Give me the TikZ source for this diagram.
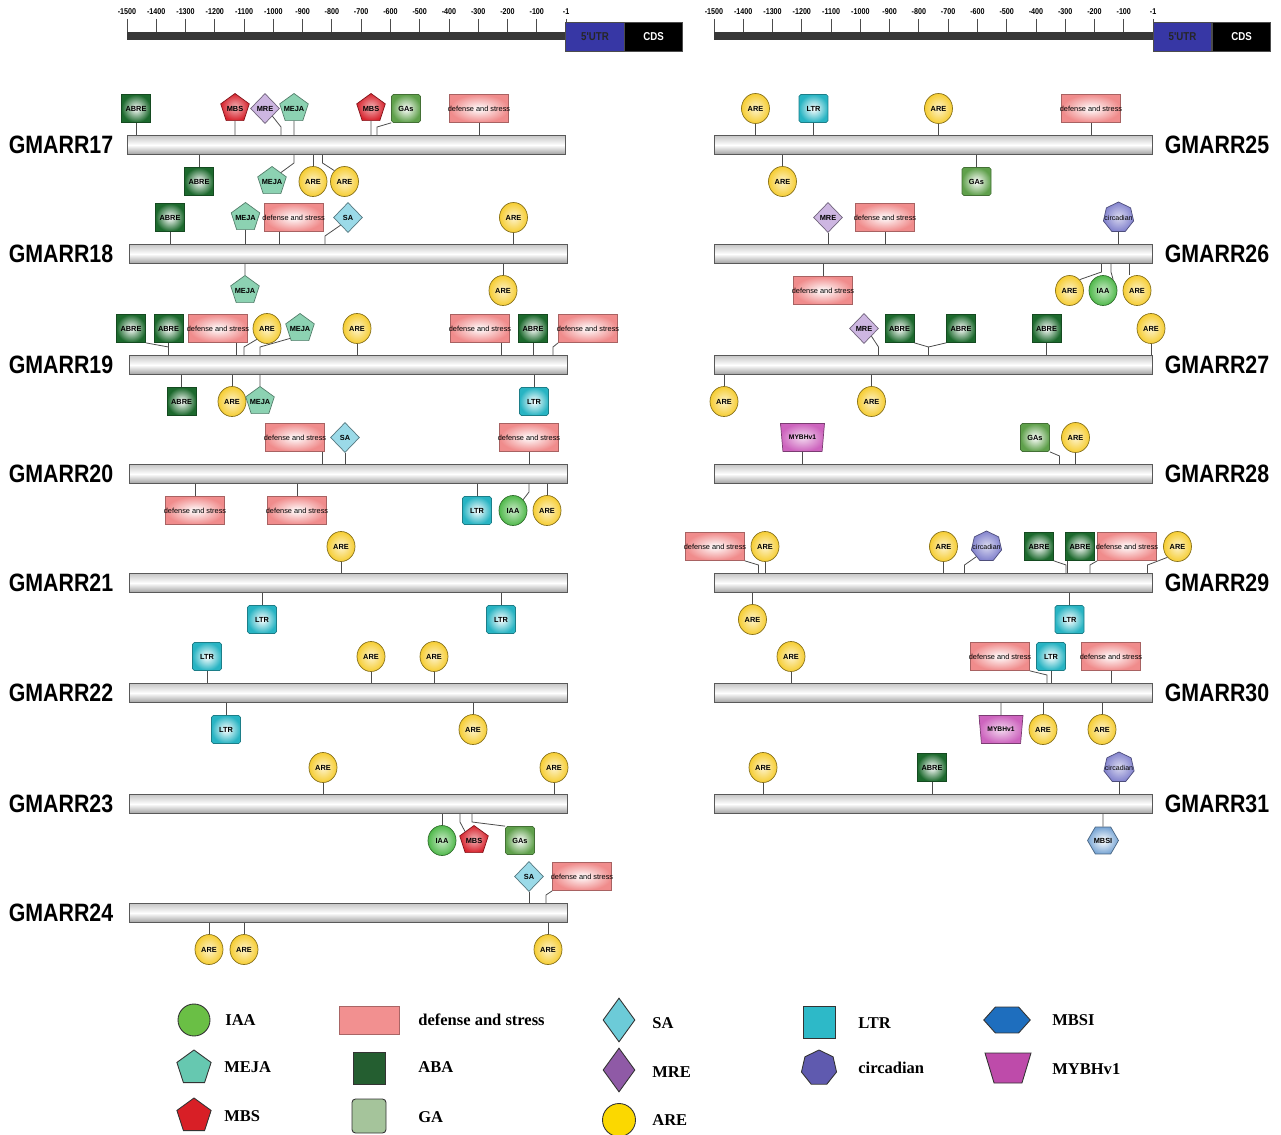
\documentclass[tikz,border=0pt]{standalone}
\usepackage{fontspec}
\setmainfont{Liberation Serif}
\newfontfamily\genefont[FakeStretch=0.85]{Liberation Sans}
\newfontfamily\elemfont{Liberation Sans}
\usepackage{tikz}
\usetikzlibrary{shapes,arrows,positioning}

% element colours
\definecolor{abreG}{RGB}{28,105,45}
\definecolor{gasG}{RGB}{95,160,75}
\definecolor{defP}{RGB}{240,140,140}
\definecolor{areY}{RGB}{246,205,50}
\definecolor{ltrC}{RGB}{40,180,195}
\definecolor{iaaG}{RGB}{80,185,75}
\definecolor{mejaT}{RGB}{140,210,178}
\definecolor{mbsR}{RGB}{215,35,45}
\definecolor{mreP}{RGB}{205,182,225}
\definecolor{saC}{RGB}{155,218,232}
\definecolor{circB}{RGB}{130,130,205}
\definecolor{mbsiB}{RGB}{120,165,212}
\definecolor{mybM}{RGB}{205,100,190}
\definecolor{utrB}{RGB}{55,55,165}
% legend colours
\definecolor{legIAA}{RGB}{106,191,69}
\definecolor{legDEF}{RGB}{242,144,144}
\definecolor{legSA}{RGB}{108,203,216}
\definecolor{legLTR}{RGB}{45,185,200}
\definecolor{legMBSI}{RGB}{30,110,190}
\definecolor{legMEJA}{RGB}{102,200,176}
\definecolor{legABA}{RGB}{36,94,48}
\definecolor{legMRE}{RGB}{143,90,166}
\definecolor{legCIRC}{RGB}{95,90,175}
\definecolor{legMYB}{RGB}{190,75,170}
\definecolor{legMBS}{RGB}{216,31,38}
\definecolor{legGA}{RGB}{165,196,155}
\definecolor{legARE}{RGB}{251,216,0}

\begin{document}
\begin{tikzpicture}[x=0.02cm, y=-0.02cm]
    % Define styles
    \tikzstyle{conn} = [draw=black!70, line width=0.45pt]
    \tikzstyle{genebar} = [rectangle, draw=black!65, line width=0.6pt, minimum width=8.78cm, minimum height=0.38cm, inner sep=0pt, top color=gray!45, bottom color=gray!75, middle color=white]
    \tikzstyle{genename} = [font=\genefont\fontsize{14.3}{16}\selectfont\bfseries]
    \tikzstyle{rulerbar} = [rectangle, fill=black!78, minimum width=8.78cm, minimum height=0.16cm, inner sep=0pt]
    \tikzstyle{tick} = [draw=black!70, line width=0.5pt]
    \tikzstyle{scalelab} = [inner sep=0pt, font=\genefont\fontsize{4.8}{5}\selectfont\bfseries]
    \tikzstyle{utrbox} = [rectangle, minimum width=1.17cm, minimum height=0.58cm, inner sep=0pt, fill=utrB, draw=black!70, text=black!85, font=\genefont\fontsize{6.5}{7}\selectfont\bfseries]
    \tikzstyle{cdsbox} = [utrbox, fill=black, text=white]
    \tikzstyle{elem} = [inner sep=0pt, line width=0.4pt, text=black, font=\elemfont\fontsize{4.2}{5}\selectfont\bfseries]
    \tikzstyle{abre} = [elem, rectangle, minimum width=0.58cm, minimum height=0.56cm, draw=abreG!70!black, inner color=white, outer color=abreG]
    \tikzstyle{gas} = [elem, rectangle, rounded corners=1pt, minimum width=0.58cm, minimum height=0.56cm, draw=gasG!70!black, inner color=white, outer color=gasG]
    \tikzstyle{ltr} = [elem, rectangle, rounded corners=1pt, minimum width=0.58cm, minimum height=0.56cm, draw=ltrC!70!black, inner color=white, outer color=ltrC]
    \tikzstyle{defstress} = [elem, rectangle, inner xsep=-2.5pt, minimum width=1.18cm, minimum height=0.56cm, draw=defP!70!black, inner color=white, outer color=defP, font=\elemfont\fontsize{4.2}{5}\selectfont]
    \tikzstyle{are} = [elem, ellipse, minimum width=0.56cm, minimum height=0.6cm, draw=areY!55!black, inner color=areY!25!white, outer color=areY]
    \tikzstyle{iaa} = [elem, ellipse, minimum width=0.56cm, minimum height=0.6cm, draw=iaaG!60!black, inner color=iaaG!30!white, outer color=iaaG]
    \tikzstyle{meja} = [elem, regular polygon, regular polygon sides=5, inner sep=-2pt, minimum size=0.6cm, draw=mejaT!60!black, fill=mejaT]
    \tikzstyle{mbs} = [elem, regular polygon, regular polygon sides=5, inner sep=-2pt, minimum size=0.6cm, draw=mbsR!60!black, inner color=mbsR!35!white, outer color=mbsR]
    \tikzstyle{mre} = [elem, diamond, minimum width=0.58cm, minimum height=0.6cm, draw=mreP!55!black, fill=mreP]
    \tikzstyle{sa} = [elem, diamond, minimum width=0.58cm, minimum height=0.6cm, draw=saC!55!black, fill=saC]
    \tikzstyle{circ} = [elem, regular polygon, regular polygon sides=7, minimum size=0.62cm, draw=circB!60!black, inner color=circB!30!white, outer color=circB, font=\elemfont\fontsize{4}{5}\selectfont]
    \tikzstyle{mbsi} = [elem, regular polygon, regular polygon sides=6, minimum size=0.62cm, draw=mbsiB!60!black, inner color=white, outer color=mbsiB]
    \tikzstyle{myb} = [elem, trapezium, trapezium angle=70, shape border rotate=180, trapezium stretches=true, minimum width=0.88cm, minimum height=0.56cm, draw=mybM!60!black, inner color=mybM!25!white, outer color=mybM, font=\elemfont\fontsize{3.8}{5}\selectfont\bfseries]
    \tikzstyle{legend} = [draw=black!80, line width=0.5pt, inner sep=0pt]
    \tikzstyle{legtext} = [anchor=west, inner sep=0pt, font=\fontsize{9.4}{11}\selectfont\bfseries]

    \useasboundingbox (0,0) rectangle (1281,1135);

    % Position scale
    \node[rulerbar] (rulerL) at (346.5,36) {};
    \node[rulerbar] (rulerR) at (933.5,36) {};
    \foreach \lab [count=\i from 0] in {-1500,-1400,-1300,-1200,-1100,-1000,-900,-800,-700,-600,-500,-400,-300,-200,-100,-1} {
        \draw[tick] (127+\i*29.27,19) -- (127+\i*29.27,32);
        \node[scalelab] (sl\i) at (127+\i*29.27,12) {\lab};
        \draw[tick] (714+\i*29.27,19) -- (714+\i*29.27,32);
        \node[scalelab] (sr\i) at (714+\i*29.27,12) {\lab};
    }
    \node[utrbox] (utrL) at (595,36.5) {5'UTR};
    \node[cdsbox] (cdsL) at (653.5,36.5) {CDS};
    \node[utrbox] (utrR) at (1182.5,36.5) {5'UTR};
    \node[cdsbox] (cdsR) at (1241.5,36.5) {CDS};

    % GMARR17
    \node[genebar] (b17) at (346.5,145) {};
    \node[genename] (n17) at (61,145) {GMARR17};
    \node[abre] (g17t1) at (136,108.5) {ABRE};
    \node[mbs] (g17t2) at (235,108.5) {MBS};
    \node[mre] (g17t3) at (265,108.5) {MRE};
    \node[meja] (g17t4) at (294,108.5) {MEJA};
    \node[mbs] (g17t5) at (371,108.5) {MBS};
    \node[gas] (g17t6) at (406,108.5) {GAs};
    \node[defstress] (g17t7) at (479,108.5) {defense and stress};
    \node[abre] (g17b1) at (199,181.5) {ABRE};
    \node[meja] (g17b2) at (272,181.5) {MEJA};
    \node[are] (g17b3) at (313,181.5) {ARE};
    \node[are] (g17b4) at (344.5,181.5) {ARE};
    \coordinate (k17a) at (281,127);
    \coordinate (k17b) at (377,127);
    \coordinate (k17c) at (294,163);
    \coordinate (k17d) at (322.5,163);
    \foreach \n in {g17t1,g17t2,g17t4,g17t5,g17t7} \draw[conn] (\n) -- (\n |- b17.north);
    \foreach \n in {g17b1,g17b3} \draw[conn] (\n) -- (\n |- b17.south);
    \draw[conn] (g17t3.south east) -- (k17a) -- (k17a |- b17.north);
    \draw[conn] (g17t6.south west) -- (k17b) -- (k17b |- b17.north);
    \draw[conn] (g17b2.north east) -- (k17c) -- (k17c |- b17.south);
    \draw[conn] (g17b4.north west) -- (k17d) -- (k17d |- b17.south);

    % GMARR18
    \node[genebar] (b18) at (348.5,254) {};
    \node[genename] (n18) at (61,254) {GMARR18};
    \node[abre] (g18t1) at (170,217.5) {ABRE};
    \node[meja] (g18t2) at (245.5,217.5) {MEJA};
    \node[defstress] (g18t3) at (293.6,217.5) {defense and stress};
    \node[sa] (g18t4) at (348,217.5) {SA};
    \node[are] (g18t5) at (513.5,217.5) {ARE};
    \node[meja] (g18b1) at (245,290.5) {MEJA};
    \node[are] (g18b2) at (503,290.5) {ARE};
    \coordinate (k18a) at (325,236);
    \foreach \n in {g18t1,g18t2,g18t5} \draw[conn] (\n) -- (\n |- b18.north);
    \foreach \n in {g18b1,g18b2} \draw[conn] (\n) -- (\n |- b18.south);
    \draw[conn] ([xshift=-0.29cm]g18t3.south) -- ([xshift=-0.29cm]g18t3.south |- b18.north);
    \draw[conn] (g18t4.south west) -- (k18a) -- (k18a |- b18.north);

    % GMARR19
    \node[genebar] (b19) at (348.5,365) {};
    \node[genename] (n19) at (61,365) {GMARR19};
    \node[abre] (g19t1) at (131,328.5) {ABRE};
    \node[abre] (g19t2) at (168.5,328.5) {ABRE};
    \node[defstress] (g19t3) at (218,328.5) {defense and stress};
    \node[are] (g19t4) at (267,328.5) {ARE};
    \node[meja] (g19t5) at (300,328.5) {MEJA};
    \node[are] (g19t6) at (357,328.5) {ARE};
    \node[defstress] (g19t7) at (480,328.5) {defense and stress};
    \node[abre] (g19t8) at (533,328.5) {ABRE};
    \node[defstress] (g19t9) at (588,328.5) {defense and stress};
    \node[abre] (g19b1) at (181.6,401.5) {ABRE};
    \node[are] (g19b2) at (232,401.5) {ARE};
    \node[meja] (g19b3) at (260,401.5) {MEJA};
    \node[ltr] (g19b4) at (534,401.5) {LTR};
    \coordinate (k19a) at (168.5,347);
    \coordinate (k19b) at (244,347);
    \coordinate (k19c) at (260,347);
    \coordinate (k19d) at (553,347);
    \foreach \n in {g19t2,g19t6,g19t8} \draw[conn] (\n) -- (\n |- b19.north);
    \foreach \n in {g19b1,g19b2,g19b3,g19b4} \draw[conn] (\n) -- (\n |- b19.south);
    \draw[conn] ([xshift=0.36cm]g19t3.south) -- ([xshift=0.36cm]g19t3.south |- b19.north);
    \draw[conn] ([xshift=0.42cm]g19t7.south) -- ([xshift=0.42cm]g19t7.south |- b19.north);
    \draw[conn] (g19t1.south east) -- (k19a) -- (k19a |- b19.north);
    \draw[conn] (g19t4.south west) -- (k19b) -- (k19b |- b19.north);
    \draw[conn] (g19t5.south west) -- (k19c) -- (k19c |- b19.north);
    \draw[conn] (g19t9.south west) -- (k19d) -- (k19d |- b19.north);

    % GMARR20
    \node[genebar] (b20) at (348.5,474) {};
    \node[genename] (n20) at (61,474) {GMARR20};
    \node[defstress] (g20t1) at (295,437.5) {defense and stress};
    \node[sa] (g20t2) at (345,437.5) {SA};
    \node[defstress] (g20t3) at (529,437.5) {defense and stress};
    \node[defstress] (g20b1) at (195,510.5) {defense and stress};
    \node[defstress] (g20b2) at (297,510.5) {defense and stress};
    \node[ltr] (g20b3) at (477,510.5) {LTR};
    \node[iaa] (g20b4) at (513,510.5) {IAA};
    \node[are] (g20b5) at (547,510.5) {ARE};
    \coordinate (k20a) at (529,492);
    \foreach \n in {g20t2,g20t3} \draw[conn] (\n) -- (\n |- b20.north);
    \foreach \n in {g20b1,g20b2,g20b3,g20b5} \draw[conn] (\n) -- (\n |- b20.south);
    \draw[conn] ([xshift=0.54cm]g20t1.south) -- ([xshift=0.54cm]g20t1.south |- b20.north);
    \draw[conn] (g20b4.north east) -- (k20a) -- (k20a |- b20.south);

    % GMARR21
    \node[genebar] (b21) at (348.5,583) {};
    \node[genename] (n21) at (61,583) {GMARR21};
    \node[are] (g21t1) at (341,546.5) {ARE};
    \node[ltr] (g21b1) at (262,619.5) {LTR};
    \node[ltr] (g21b2) at (501,619.5) {LTR};
    \draw[conn] (g21t1) -- (g21t1 |- b21.north);
    \foreach \n in {g21b1,g21b2} \draw[conn] (\n) -- (\n |- b21.south);

    % GMARR22
    \node[genebar] (b22) at (348.5,693) {};
    \node[genename] (n22) at (61,693) {GMARR22};
    \node[ltr] (g22t1) at (207,656.5) {LTR};
    \node[are] (g22t2) at (371,656.5) {ARE};
    \node[are] (g22t3) at (434,656.5) {ARE};
    \node[ltr] (g22b1) at (226,729.5) {LTR};
    \node[are] (g22b2) at (473,729.5) {ARE};
    \foreach \n in {g22t1,g22t2,g22t3} \draw[conn] (\n) -- (\n |- b22.north);
    \foreach \n in {g22b1,g22b2} \draw[conn] (\n) -- (\n |- b22.south);

    % GMARR23
    \node[genebar] (b23) at (348.5,804) {};
    \node[genename] (n23) at (61,804) {GMARR23};
    \node[are] (g23t1) at (323,767.5) {ARE};
    \node[are] (g23t2) at (554,767.5) {ARE};
    \node[iaa] (g23b1) at (442,840.5) {IAA};
    \node[mbs] (g23b2) at (474,840.5) {MBS};
    \node[gas] (g23b3) at (520,840.5) {GAs};
    \coordinate (k23a) at (460,822);
    \coordinate (k23b) at (472,822);
    \foreach \n in {g23t1,g23t2} \draw[conn] (\n) -- (\n |- b23.north);
    \draw[conn] (g23b1) -- (g23b1 |- b23.south);
    \draw[conn] (g23b2.north west) -- (k23a) -- (k23a |- b23.south);
    \draw[conn] (g23b3.north west) -- (k23b) -- (k23b |- b23.south);

    % GMARR24
    \node[genebar] (b24) at (348.5,913) {};
    \node[genename] (n24) at (61,913) {GMARR24};
    \node[sa] (g24t1) at (529,876.5) {SA};
    \node[defstress] (g24t2) at (582,876.5) {defense and stress};
    \node[are] (g24b1) at (209,949.5) {ARE};
    \node[are] (g24b2) at (244,949.5) {ARE};
    \node[are] (g24b3) at (548,949.5) {ARE};
    \coordinate (k24a) at (546,895);
    \draw[conn] (g24t1) -- (g24t1 |- b24.north);
    \draw[conn] (g24t2.south west) -- (k24a) -- (k24a |- b24.north);
    \foreach \n in {g24b1,g24b2,g24b3} \draw[conn] (\n) -- (\n |- b24.south);

    % GMARR25
    \node[genebar] (b25) at (933.5,145) {};
    \node[genename] (n25) at (1217,145) {GMARR25};
    \node[are] (g25t1) at (755.5,108.5) {ARE};
    \node[ltr] (g25t2) at (813.5,108.5) {LTR};
    \node[are] (g25t3) at (938.5,108.5) {ARE};
    \node[defstress] (g25t4) at (1091,108.5) {defense and stress};
    \node[are] (g25b1) at (782.5,181.5) {ARE};
    \node[gas] (g25b2) at (976.5,181.5) {GAs};
    \foreach \n in {g25t1,g25t2,g25t3,g25t4} \draw[conn] (\n) -- (\n |- b25.north);
    \foreach \n in {g25b1,g25b2} \draw[conn] (\n) -- (\n |- b25.south);

    % GMARR26
    \node[genebar] (b26) at (933.5,254) {};
    \node[genename] (n26) at (1217,254) {GMARR26};
    \node[mre] (g26t1) at (828,217.5) {MRE};
    \node[defstress] (g26t2) at (885,217.5) {defense and stress};
    \node[circ] (g26t3) at (1118.5,217.5) {\makebox[0pt]{circadian}};
    \node[defstress] (g26b1) at (823,290.5) {defense and stress};
    \node[are] (g26b2) at (1069.5,290.5) {ARE};
    \node[iaa] (g26b3) at (1103,290.5) {IAA};
    \node[are] (g26b4) at (1137,290.5) {ARE};
    \coordinate (k26a) at (1101.5,272);
    \coordinate (k26b) at (1111,272);
    \foreach \n in {g26t1,g26t2,g26t3} \draw[conn] (\n) -- (\n |- b26.north);
    \draw[conn] (g26b1) -- (g26b1 |- b26.south);
    \draw[conn] ([xshift=-0.16cm]g26b4.north) -- ([xshift=-0.16cm]g26b4.north |- b26.south);
    \draw[conn] (g26b2.north east) -- (k26a) -- (k26a |- b26.south);
    \draw[conn] (g26b3.north east) -- (k26b) -- (k26b |- b26.south);

    % GMARR27
    \node[genebar] (b27) at (933.5,365) {};
    \node[genename] (n27) at (1217,365) {GMARR27};
    \node[mre] (g27t1) at (864,328.5) {MRE};
    \node[abre] (g27t2) at (899.5,328.5) {ABRE};
    \node[abre] (g27t3) at (961,328.5) {ABRE};
    \node[abre] (g27t4) at (1046.5,328.5) {ABRE};
    \node[are] (g27t5) at (1151,328.5) {ARE};
    \node[are] (g27b1) at (724,401.5) {ARE};
    \node[are] (g27b2) at (871.5,401.5) {ARE};
    \coordinate (k27a) at (878.5,347);
    \coordinate (k27b) at (928.5,347);
    \foreach \n in {g27t4,g27t5} \draw[conn] (\n) -- (\n |- b27.north);
    \foreach \n in {g27b1,g27b2} \draw[conn] (\n) -- (\n |- b27.south);
    \draw[conn] (g27t1.south east) -- (k27a) -- (k27a |- b27.north);
    \draw[conn] (g27t2.south east) -- (k27b) -- (k27b |- b27.north);
    \draw[conn] (g27t3.south west) -- (k27b);

    % GMARR28
    \node[genebar] (b28) at (933.5,474) {};
    \node[genename] (n28) at (1217,474) {GMARR28};
    \node[myb] (g28t1) at (802.5,437.5) {MYBHv1};
    \node[gas] (g28t2) at (1035,437.5) {GAs};
    \node[are] (g28t3) at (1075.5,437.5) {ARE};
    \coordinate (k28a) at (1059.5,456);
    \foreach \n in {g28t1,g28t3} \draw[conn] (\n) -- (\n |- b28.north);
    \draw[conn] (g28t2.south east) -- (k28a) -- (k28a |- b28.north);

    % GMARR29
    \node[genebar] (b29) at (933.5,583) {};
    \node[genename] (n29) at (1217,583) {GMARR29};
    \node[defstress] (g29t1) at (715,546.5) {defense and stress};
    \node[are] (g29t2) at (765,546.5) {ARE};
    \node[are] (g29t3) at (943.5,546.5) {ARE};
    \node[circ] (g29t4) at (986.5,546.5) {\makebox[0pt]{circadian}};
    \node[abre] (g29t5) at (1039,546.5) {ABRE};
    \node[abre] (g29t6) at (1080,546.5) {ABRE};
    \node[defstress] (g29t7) at (1127,546.5) {defense and stress};
    \node[are] (g29t8) at (1177.5,546.5) {ARE};
    \node[are] (g29b1) at (752.5,619.5) {ARE};
    \node[ltr] (g29b2) at (1069.5,619.5) {LTR};
    \coordinate (k29a) at (758.5,565);
    \coordinate (k29b) at (964.5,565);
    \coordinate (k29c) at (1066,565);
    \coordinate (k29d) at (1090,565);
    \coordinate (k29e) at (1147.5,565);
    \foreach \n in {g29t2,g29t3} \draw[conn] (\n) -- (\n |- b29.north);
    \foreach \n in {g29b1,g29b2} \draw[conn] (\n) -- (\n |- b29.south);
    \draw[conn] ([xshift=-0.25cm]g29t6.south) -- ([xshift=-0.25cm]g29t6.south |- b29.north);
    \draw[conn] (g29t1.south east) -- (k29a) -- (k29a |- b29.north);
    \draw[conn] (g29t4.south west) -- (k29b) -- (k29b |- b29.north);
    \draw[conn] (g29t5.south east) -- (k29c) -- (k29c |- b29.north);
    \draw[conn] (g29t7.south west) -- (k29d) -- (k29d |- b29.north);
    \draw[conn] (g29t8.south west) -- (k29e) -- (k29e |- b29.north);

    % GMARR30
    \node[genebar] (b30) at (933.5,693) {};
    \node[genename] (n30) at (1217,693) {GMARR30};
    \node[are] (g30t1) at (791,656.5) {ARE};
    \node[defstress] (g30t2) at (1000,656.5) {defense and stress};
    \node[ltr] (g30t3) at (1051,656.5) {LTR};
    \node[defstress] (g30t4) at (1111,656.5) {defense and stress};
    \node[myb] (g30b1) at (1001,729.5) {MYBHv1};
    \node[are] (g30b2) at (1043,729.5) {ARE};
    \node[are] (g30b3) at (1102,729.5) {ARE};
    \coordinate (k30a) at (1047,675);
    \foreach \n in {g30t1,g30t3,g30t4} \draw[conn] (\n) -- (\n |- b30.north);
    \foreach \n in {g30b1,g30b2,g30b3} \draw[conn] (\n) -- (\n |- b30.south);
    \draw[conn] (g30t2.south east) -- (k30a) -- (k30a |- b30.north);

    % GMARR31
    \node[genebar] (b31) at (933.5,804) {};
    \node[genename] (n31) at (1217,804) {GMARR31};
    \node[are] (g31t1) at (763,767.5) {ARE};
    \node[abre] (g31t2) at (932,767.5) {ABRE};
    \node[circ] (g31t3) at (1119,767.5) {\makebox[0pt]{circadian}};
    \node[mbsi] (g31b1) at (1103,840.5) {MBSI};
    \foreach \n in {g31t1,g31t2,g31t3} \draw[conn] (\n) -- (\n |- b31.north);
    \draw[conn] (g31b1) -- (g31b1 |- b31.south);

    % Legend
    \node[legend, circle, minimum size=0.64cm, fill=legIAA] (li1) at (194,1020) {};
    \node[legtext] (lt1) at (225,1020) {IAA};
    \node[legend, rectangle, minimum width=1.2cm, minimum height=0.56cm, fill=legDEF, draw=legDEF!70!black] (li2) at (369,1020) {};
    \node[legtext] (lt2) at (418,1020) {defense and stress};
    \node[legend, diamond, minimum width=0.64cm, minimum height=0.88cm, fill=legSA] (li3) at (619,1020) {};
    \node[legtext] (lt3) at (652,1023) {SA};
    \node[legend, rectangle, minimum size=0.64cm, fill=legLTR] (li4) at (819,1022) {};
    \node[legtext] (lt4) at (858,1023) {LTR};
    \node[legend, regular polygon, regular polygon sides=6, minimum size=0.6cm, xscale=1.55, fill=legMBSI] (li5) at (1007,1020) {};
    \node[legtext] (lt5) at (1052,1020) {MBSI};
    \node[legend, regular polygon, regular polygon sides=5, minimum size=0.72cm, fill=legMEJA] (li6) at (194,1068) {};
    \node[legtext] (lt6) at (224,1067) {MEJA};
    \node[legend, rectangle, minimum size=0.64cm, fill=legABA] (li7) at (369,1068) {};
    \node[legtext] (lt7) at (418,1067) {ABA};
    \node[legend, diamond, minimum width=0.64cm, minimum height=0.88cm, fill=legMRE] (li8) at (619,1070) {};
    \node[legtext] (lt8) at (652,1072) {MRE};
    \node[legend, regular polygon, regular polygon sides=7, minimum size=0.72cm, fill=legCIRC] (li9) at (819,1068) {};
    \node[legtext] (lt9) at (858,1068) {circadian};
    \node[legend, trapezium, inner sep=1pt, trapezium angle=72, shape border rotate=180, trapezium stretches=true, minimum width=0.92cm, minimum height=0.6cm, fill=legMYB] (li10) at (1008,1068) {};
    \node[legtext] (lt10) at (1052,1069) {MYBHv1};
    \node[legend, regular polygon, regular polygon sides=5, minimum size=0.72cm, fill=legMBS] (li11) at (194,1116) {};
    \node[legtext] (lt11) at (224,1116) {MBS};
    \node[legend, rectangle, rounded corners=2pt, minimum size=0.68cm, fill=legGA] (li12) at (369,1116) {};
    \node[legtext] (lt12) at (418,1117) {GA};
    \node[legend, circle, minimum size=0.66cm, fill=legARE] (li13) at (619,1120) {};
    \node[legtext] (lt13) at (652,1120) {ARE};
\end{tikzpicture}
\end{document}
